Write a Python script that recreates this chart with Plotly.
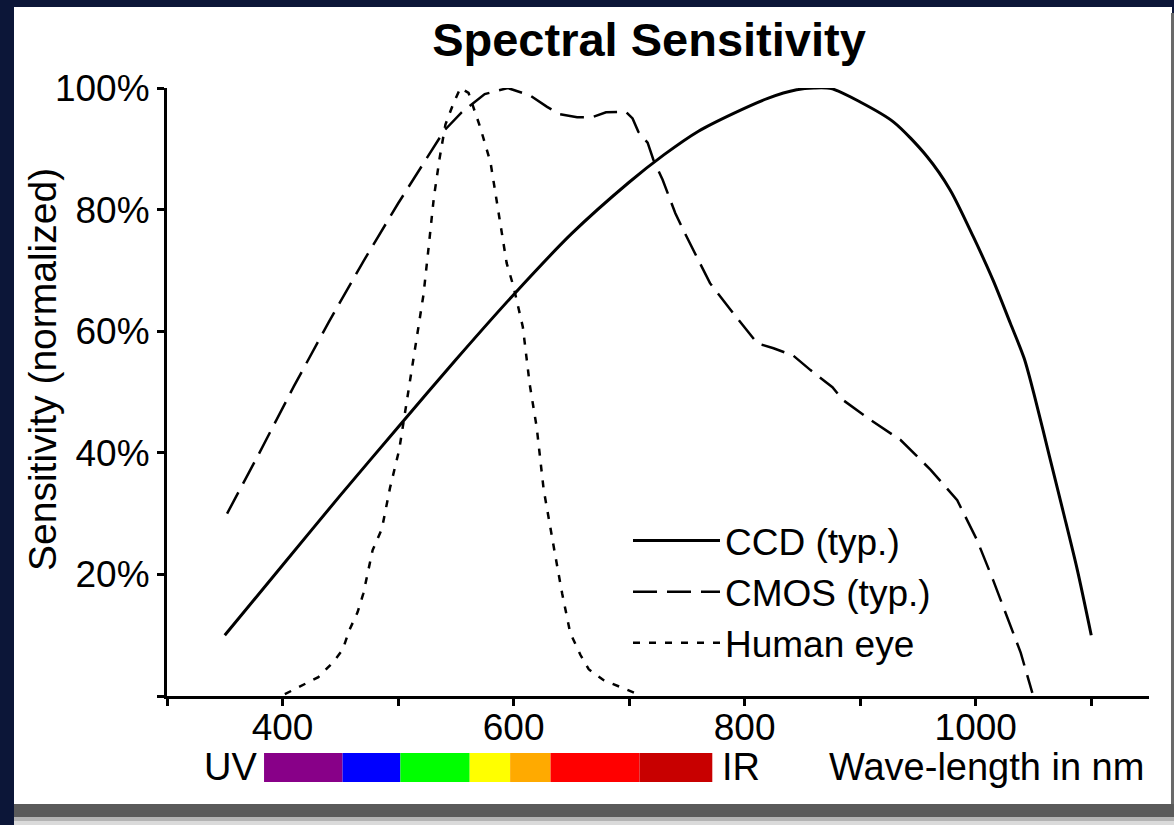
import plotly.graph_objects as go

# ---------------- data ----------------
ccd_nm = [350, 400, 450, 500, 550, 600, 650, 700, 730, 760, 790, 820, 845, 860, 875, 900, 929,
          958, 978, 998, 1015, 1030, 1042, 1052, 1064, 1076, 1088, 1100]
ccd_val = [10, 21.5, 33, 44.2, 55.3, 66, 76, 84.5, 89, 92.9, 95.8, 98.3, 99.7, 100, 99.9, 97.7, 94.4,
           88.7, 83.2, 75.5, 68.4, 61.3, 55.5, 48.5, 39.3, 30.1, 20.7, 10]

cmos_nm = [352, 380, 410, 440, 470, 500, 525, 540, 555, 575, 595, 614, 629, 640, 655, 668,
           680, 697, 703, 708, 716, 721, 729, 740, 747, 759, 770, 790, 811, 825, 842, 857,
           876, 885, 909, 935, 961, 984, 1001, 1015, 1027, 1039, 1049]
cmos_val = [30, 40, 51, 61.5, 71.5, 81, 88.5, 93, 96, 99, 100, 98.8, 96.9, 95.7, 95.2, 95.2,
            96, 96.1, 95, 92.8, 91, 88.2, 84.9, 79.4, 76.6, 72.2, 67.9, 63, 58, 57.2, 56, 53.6,
            50.8, 48.7, 45.4, 42.1, 37.2, 32.2, 25.7, 19.1, 13, 7.1, 0.5]

eye_nm = [402, 415, 431, 444, 452, 458, 465, 470, 474, 478, 486, 493, 501, 509, 516, 522,
          526, 531, 536, 541, 548, 554, 561, 571, 580, 588, 594, 600, 608, 614, 620, 626,
          630, 636, 642, 649, 658, 665, 678, 692, 705]
eye_val = [0.3, 1.5, 3.1, 5.6, 7.6, 10.9, 13.8, 16.9, 20.4, 24, 27.5, 34.2, 40.5, 50.3, 59.4, 66,
           73, 82, 88.5, 94, 97.5, 100, 99.2, 93.6, 87.8, 78.3, 71.2, 67.3, 60.7, 51.2, 44.2, 34,
           29.4, 23.2, 16.9, 10.4, 6.7, 4.4, 2.6, 1.5, 0.5]

series_names = ["CCD (typ.)", "CMOS (typ.)", "Human eye"]

x_tickvals = [300, 400, 500, 600, 700, 800, 900, 1000, 1100]
x_ticktext = ["", "400", "", "600", "", "800", "", "1000", ""]
y_tickvals = [0, 20, 40, 60, 80, 100]
y_ticktext = ["", "20%", "40%", "60%", "80%", "100%"]

band_edges = [384, 452, 502, 562, 597, 632, 709, 772]
band_colors = ["#880088", "#0000FF", "#00FF00", "#FFFF00", "#FFAA00", "#FF0000", "#C80000"]

title_text = "Spectral Sensitivity"
y_title = "Sensitivity (normalized)"
x_title = "Wave-length in nm"

# ---------------- layout geometry ----------------
W, H = 1174, 825
L, T = 167, 88
PW, PH = 982, 608
FONT = "Liberation Sans, Arial, sans-serif"


def px(xpix):
    return (xpix - L) / PW


def py(ypix):
    return (T + PH - ypix) / PH


fig = go.Figure()
fig.add_trace(go.Scatter(x=ccd_nm, y=ccd_val, mode="lines", name=series_names[0],
                         line=dict(color="black", width=3, shape="spline", smoothing=0.8)))
fig.add_trace(go.Scatter(x=cmos_nm, y=cmos_val, mode="lines", name=series_names[1],
                         line=dict(color="black", width=2.5, dash="24px,10px")))
fig.add_trace(go.Scatter(x=eye_nm, y=eye_val, mode="lines", name=series_names[2],
                         line=dict(color="black", width=2.5, dash="7px,9px")))

shapes = []
# white panel and its shadow frame
shapes.append(dict(type="rect", xref="paper", yref="paper", layer="below",
                   x0=px(14), x1=px(1172), y0=py(804), y1=py(7),
                   fillcolor="white", line=dict(width=0)))
shapes.append(dict(type="rect", xref="paper", yref="paper", layer="below",
                   x0=px(1171), x1=px(1174), y0=py(804), y1=py(13),
                   fillcolor="#6a6a6a", line=dict(width=0)))
shapes.append(dict(type="rect", xref="paper", yref="paper", layer="below",
                   x0=px(14), x1=px(1174), y0=py(817), y1=py(804),
                   fillcolor="#5a5a5a", line=dict(width=0)))
shapes.append(dict(type="rect", xref="paper", yref="paper", layer="below",
                   x0=px(14), x1=px(1174), y0=py(821), y1=py(817),
                   fillcolor="#b3b3b3", line=dict(width=0)))
shapes.append(dict(type="rect", xref="paper", yref="paper", layer="below",
                   x0=px(14), x1=px(1174), y0=py(825), y1=py(821),
                   fillcolor="#dadada", line=dict(width=0)))
# spectrum colour band
for i, c in enumerate(band_colors):
    shapes.append(dict(type="rect", xref="x", yref="paper", layer="above",
                       x0=band_edges[i], x1=band_edges[i + 1], y0=py(782), y1=py(753),
                       fillcolor=c, line=dict(width=0)))

annotations = [
    dict(text="UV", xref="x", yref="paper", x=band_edges[0], y=py(767), xanchor="right",
         yanchor="middle", xshift=-5, showarrow=False, font=dict(size=38, color="black", family=FONT)),
    dict(text="IR", xref="x", yref="paper", x=band_edges[-1], y=py(767), xanchor="left",
         yanchor="middle", xshift=8, showarrow=False, font=dict(size=38, color="black", family=FONT)),
    dict(text=x_title, xref="paper", yref="paper", x=px(1146), y=py(767), xanchor="right",
         yanchor="middle", showarrow=False, font=dict(size=38, color="black", family=FONT)),
    dict(text=y_title, xref="paper", yref="paper", x=px(42), y=py(370), xanchor="center",
         yanchor="middle", textangle=-90, showarrow=False,
         font=dict(size=39, color="black", family=FONT)),
]

fig.update_layout(
    width=W, height=H, autosize=False,
    margin=dict(l=L, r=W - L - PW, t=T, b=H - T - PH, pad=0),
    paper_bgcolor="#0c1638", plot_bgcolor="white",
    font=dict(family=FONT, color="black", size=36),
    title=dict(text=title_text, x=px(649), xref="paper", xanchor="center",
               y=1 - 40 / H, yref="container", yanchor="middle",
               font=dict(size=47, color="black", family=FONT, weight="bold")),
    showlegend=True,
    legend=dict(x=px(628), y=py(510), xanchor="left", yanchor="top",
                bgcolor="rgba(0,0,0,0)", borderwidth=0, itemwidth=87,
                font=dict(size=37, color="black", family=FONT), tracegroupgap=0),
    shapes=shapes,
    annotations=annotations,
)

fig.update_xaxes(range=[300, 1150], showgrid=False, zeroline=False, showline=True,
                 linecolor="black", linewidth=3, ticks="outside", ticklen=7, tickwidth=3,
                 tickcolor="black", tickvals=x_tickvals, ticktext=x_ticktext,
                 ticklabelstandoff=-10,
                 tickfont=dict(size=37, color="black", family=FONT), fixedrange=True)
fig.update_yaxes(range=[0, 100], showgrid=False, zeroline=False, showline=True,
                 linecolor="black", linewidth=3, ticks="outside", ticklen=7, tickwidth=3,
                 tickcolor="black", tickvals=y_tickvals, ticktext=y_ticktext,
                 tickfont=dict(size=37, color="black", family=FONT), fixedrange=True)

fig.write_html("out.html", config={"displayModeBar": False},
               post_script="document.body.style.margin='0';document.body.style.overflow='hidden';")
